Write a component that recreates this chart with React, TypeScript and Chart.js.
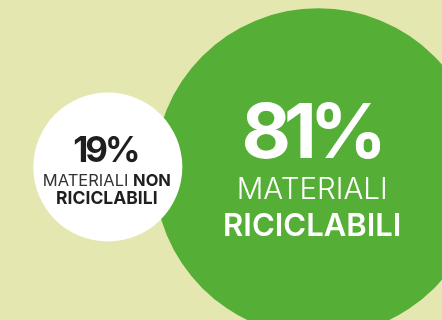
import React, { useEffect, useRef } from "react";
import { Chart, registerables } from "chart.js";

Chart.register(...registerables);

// Data
const shares = [81, 19];
const percentLabels = ["81%", "19%"];
const lineOne = [["MATERIALI", ""], ["MATERIALI ", "NON"]];
const lineTwo = ["RICICLABILI", "RICICLABILI"];
const bubbleX = [72, 24.4];
const bubbleY = [46.2, 47.8];
const bubbleR = [164, 74.5];
const fills = ["#55ae35", "#ffffff"];

const FONT = "Inter, 'Noto Sans', sans-serif";

function drawCentered(ctx: any, text: string, cx: number, y: number, font: string, spacing: number) {
  ctx.font = font;
  (ctx as any).letterSpacing = `${spacing}px`;
  const w = ctx.measureText(text).width - spacing;
  ctx.textAlign = "left";
  ctx.fillText(text, cx - w / 2, y);
  (ctx as any).letterSpacing = "0px";
}

const textPlugin = {
  id: "bubbleText",
  afterDatasetsDraw(chart: any) {
    const ctx = chart.ctx;
    const meta = chart.getDatasetMeta(0);
    ctx.save();
    ctx.textBaseline = "alphabetic";
    meta.data.forEach((el: any, i: number) => {
      const big = i === 0;
      const color = big ? "#ffffff" : "#1f1f1f";
      const cx = el.x + (big ? -6 : -1);
      const cy = el.y;
      ctx.fillStyle = color;
      // percentage
      drawCentered(ctx, percentLabels[i], cx + (big ? 2 : 0), cy + (big ? -14 : -5), `700 ${big ? 76 : 35}px ${FONT}`, big ? -7 : -3);
      // line one (mixed weights)
      const size = big ? 29.5 : 16.5;
      const w1 = big ? 300 : 400;
      const [a, b] = lineOne[i];
      ctx.font = `${w1} ${size}px ${FONT}`;
      const wa = ctx.measureText(a).width;
      ctx.font = `700 ${size}px ${FONT}`;
      const wb = ctx.measureText(b).width;
      const start = cx - (wa + wb) / 2;
      ctx.textAlign = "left";
      ctx.font = `${w1} ${size}px ${FONT}`;
      ctx.fillStyle = big ? "#ffffff" : "#333333";
      ctx.fillText(a, start, cy + (big ? 27 : 19));
      ctx.font = `700 ${size}px ${FONT}`;
      ctx.fillStyle = color;
      ctx.fillText(b, start + wa, cy + (big ? 27 : 19));
      // line two
      drawCentered(ctx, lineTwo[i], cx, cy + (big ? 64 : 37), `${big ? 600 : 700} ${big ? 31 : 17.5}px ${FONT}`, 0);
    });
    ctx.restore();
  },
};

export default function App() {
  const ref = useRef<HTMLCanvasElement>(null);
  useEffect(() => {
    document.body.style.margin = "0";
    const chart = new Chart(ref.current!, {
      type: "bubble",
      data: {
        datasets: [
          {
            label: "Materiali",
            data: shares.map((v, i) => ({ x: bubbleX[i], y: bubbleY[i], r: bubbleR[i], v })),
            backgroundColor: fills,
            borderWidth: 0,
            hoverRadius: 0,
            clip: false as any,
          } as any,
        ],
      },
      options: {
        animation: false,
        responsive: false,
        maintainAspectRatio: false,
        events: [],
        layout: { padding: 0, autoPadding: false },
        plugins: { legend: { display: false }, tooltip: { enabled: false } },
        scales: {
          x: { type: "linear", min: 0, max: 100, display: false },
          y: { type: "linear", min: 0, max: 100, display: false },
        },
      },
      plugins: [textPlugin],
    });
    return () => chart.destroy();
  }, []);
  return (
    <div style={{ width: 442, height: 320, background: "#e4e8b0", position: "absolute", left: 0, top: 0 }}>
      <canvas ref={ref} width={442} height={320} style={{ display: "block" }} />
    </div>
  );
}
